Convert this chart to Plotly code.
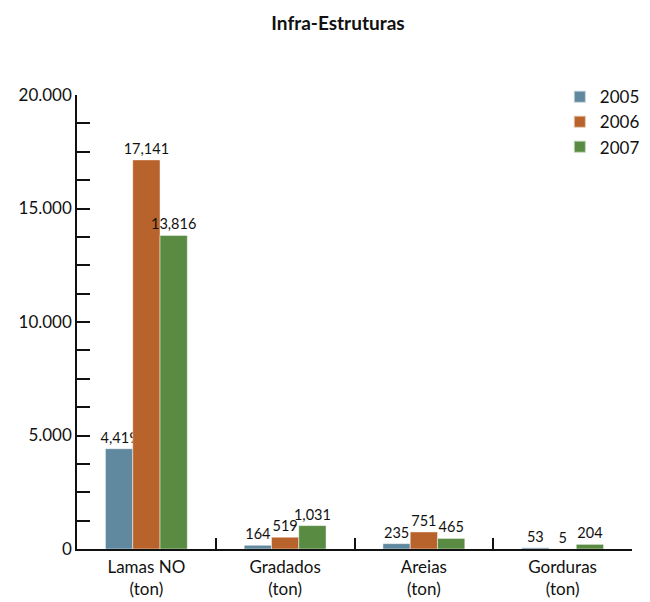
import plotly.graph_objects as go

categories = ["Lamas NO<br>(ton)", "Gradados<br>(ton)", "Areias<br>(ton)", "Gorduras<br>(ton)"]
years = ["2005", "2006", "2007"]
values_2005 = [4419, 164, 235, 53]
values_2006 = [17141, 519, 751, 5]
values_2007 = [13816, 1031, 465, 204]
colors = ["#60889f", "#b8622c", "#5a8b42"]

FONT = "Lato, 'Open Sans', sans-serif"

fig = go.Figure()
for year, vals, col in zip(years, [values_2005, values_2006, values_2007], colors):
    fig.add_trace(go.Bar(
        x=categories, y=vals, name=year,
        marker=dict(color=col, line=dict(color="rgba(255,255,255,0.6)", width=0.8)),
        text=[f"{v:,}" for v in vals], textposition="outside",
        textfont=dict(size=14.5, color="#111", family=FONT),
        cliponaxis=False,
    ))

fig.update_layout(
    width=650, height=602,
    margin=dict(l=77, r=5, t=95, b=53),
    paper_bgcolor="white", plot_bgcolor="white",
    barmode="group", bargap=0.41, bargroupgap=0,
    separators=",.",
    font=dict(family=FONT, size=17, color="#111"),
    title=dict(text="<b>Infra-Estruturas</b>", x=0.52, xanchor="center", y=0.962,
               yanchor="middle", font=dict(size=19, family=FONT)),
    legend=dict(x=0.87, y=1.035, xanchor="left", yanchor="top",
                font=dict(size=17), itemsizing="constant", tracegroupgap=0,
                bgcolor="rgba(0,0,0,0)"),
    uniformtext=dict(mode="show", minsize=14.5),
)
fig.update_yaxes(
    range=[0, 20000], dtick=5000, tickformat=",d",
    showgrid=False, zeroline=False, automargin=False,
    showline=True, linecolor="#111", linewidth=1.5,
    ticks="inside", ticklen=13, tickwidth=1.5, tickcolor="#111",
    minor=dict(dtick=1250, ticks="inside", ticklen=13, tickwidth=1.5, tickcolor="#111"),
    tickfont=dict(size=17),
)
fig.update_xaxes(
    showgrid=False, showline=True, linecolor="#111", linewidth=1.5, automargin=False,
    ticks="inside", tickson="boundaries", ticklen=11, tickwidth=1.5, tickcolor="#111",
    tickfont=dict(size=17), ticklabelstandoff=2,
)

fig.write_html("out.html")
